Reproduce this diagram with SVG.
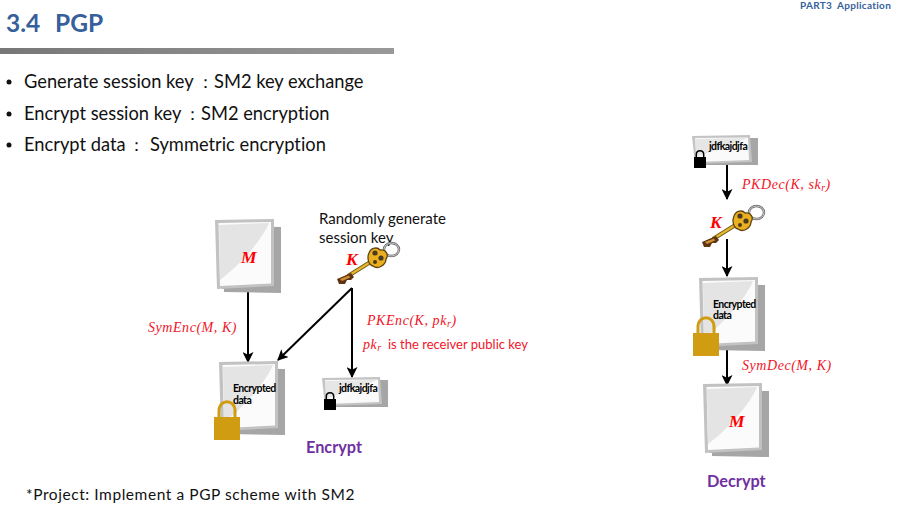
<svg xmlns="http://www.w3.org/2000/svg" width="912" height="512" viewBox="0 0 912 512">
<style>
text{font-family:Lato,"Open Sans","Noto Sans",sans-serif;fill:#111;font-variant-ligatures:none}
.b{font-size:18.300px}
.c{font-size:17px}
.m{font-family:"Liberation Serif",serif;font-style:italic;fill:#f01528;font-size:14px;letter-spacing:.55px}
.v{font-family:"Liberation Serif",serif;font-style:italic;font-weight:bold;fill:#f00;font-size:17.500px}
.sub{font-size:10px}
.lab{font-size:15px}
.tiny{font-size:10.500px;font-weight:bold;letter-spacing:-.55px;fill:#000}
.pur{font-size:16.300px;font-weight:bold;fill:#7030a0}
.ln{stroke:#000;stroke-width:2;fill:none}
</style>
<defs>
<linearGradient id="bar"><stop offset="0" stop-color="#777"/><stop offset="1" stop-color="#999"/></linearGradient>
<marker id="ah" viewBox="0 0 10 10" refX="9" refY="5" markerWidth="5.5" markerHeight="5.5" markerUnits="strokeWidth" orient="auto"><path d="M0 0L10 5L0 10L2.500 5Z" fill="#000"/></marker>
<symbol id="doc" viewBox="0 0 66 73" overflow="visible">
<path d="M7 6L66 7V73L9 72V69L7 69Z" fill="#a6a6a6"/>
<path d="M0 0L59 -1L59 66L2 69Z" fill="#c2c2c2"/>
<path d="M3.500 3L56 2L56 63.500L5 66Z" fill="#fbfbfb"/>
<path d="M4 5L54 3C47 20 25 45 5 60Z" fill="#e4e4e4"/>
</symbol>
<symbol id="sdoc" viewBox="0 0 66 31" overflow="visible">
<path d="M7 3L66 3L66 30L8 30Z" fill="#a6a6a6"/>
<path d="M0 1L58 0L60 27L3 29Z" fill="#c4c4c4"/>
<path d="M3 3L56 2.500L57 25L5 27Z" fill="#fafafa"/>
<path d="M3 4L55 3C40 10 20 16 4 22Z" fill="#e6e6e6"/>
</symbol>
<symbol id="glock" viewBox="0 0 26 40" overflow="visible">
<path d="M5 19V11C5 -1.500 21 -1.500 21 11V19" fill="none" stroke="#d09c12" stroke-width="3"/>
<rect x="0" y="17" width="26" height="23" fill="#d09c12"/>
</symbol>
<symbol id="klock" viewBox="0 0 12 18" overflow="visible">
<path d="M2.300 8V4.500C2.300 -.5 9.700 -.5 9.700 4.500V8" fill="none" stroke="#000" stroke-width="1.500"/>
<rect x="0" y="7" width="12" height="11" fill="#000"/>
</symbol>
<symbol id="key" viewBox="0 0 66 46" overflow="visible">
<ellipse cx="55.500" cy="8.500" rx="7.500" ry="6.500" fill="none" stroke="#6b6b6b" stroke-width="2.400"/>
<ellipse cx="55.500" cy="8.500" rx="7.500" ry="6.500" fill="none" stroke="#e0e0e0" stroke-width=".8"/>
<path d="M36 20L12 35" stroke="#6f5510" stroke-width="4"/>
<path d="M36 20L12 35" stroke="#e5b82e" stroke-width="2.200"/>
<path d="M1 38L15 32L18 36L15 39L11 39L9 43L3 43Z" fill="#5e3413"/>
<path d="M4 38L13 34.500L14 36.500L6 40Z" fill="#d09030"/>
<path d="M33 12C35 6 42 6 44 9C50 8 53 14 50 18C50 24 42 29 37 25C32 24 31 16 33 12Z" fill="#eab020" stroke="#5e4410" stroke-width="1.300"/>
<circle cx="39" cy="12" r="2.600" fill="#4a3a20"/><circle cx="45" cy="17" r="2.600" fill="#4a3a20"/><circle cx="39" cy="21" r="2" fill="#4a3a20"/>
</symbol>
</defs>
<rect width="912" height="512" fill="#fff"/>
<g id="header">
<text x="6" y="32" style="font-size:24.500px;font-weight:bold;fill:#365f9b">3.4<tspan x="55">PGP</tspan></text>
<text x="800" y="9" style="font-size:10px;font-weight:bold;fill:#365f9b;letter-spacing:.3px">PART3<tspan x="837">Application</tspan></text>
<rect x="0" y="48" width="394" height="6" fill="url(#bar)"/>
</g>
<g id="bullets">
<circle cx="9" cy="82" r="2.500" fill="#111"/><text class="b" x="24" y="88">Generate session key<tspan class="c" x="197">：</tspan><tspan x="214">SM2 key exchange</tspan></text>
<circle cx="9" cy="114" r="2.500" fill="#111"/><text class="b" x="24" y="120">Encrypt session key<tspan class="c" x="184">：</tspan><tspan x="201">SM2 encryption</tspan></text>
<circle cx="9" cy="145" r="2.500" fill="#111"/><text class="b" x="24" y="151">Encrypt data<tspan class="c" x="128">：</tspan><tspan x="150">Symmetric encryption</tspan></text>
</g>
<g id="connectors">
<path class="ln" d="M248 290V362" marker-end="url(#ah)"/>
<path class="ln" d="M352 288L278 360" marker-end="url(#ah)"/>
<path class="ln" d="M352 288V377" marker-end="url(#ah)"/>
<path class="ln" d="M727 164V199" marker-end="url(#ah)"/>
<path class="ln" d="M727 239V276" marker-end="url(#ah)"/>
<path class="ln" d="M727 349V385" marker-end="url(#ah)"/>
</g>
<g id="doc-m-left"><use href="#doc" x="215" y="220" width="66" height="73"/><text class="v" x="241" y="263">M</text></g>
<g id="session-note"><text class="lab" x="319" y="224">Randomly generate</text><text class="lab" x="319" y="243">session key</text></g>
<g id="key-left"><use href="#key" x="336" y="241" width="66" height="46"/><text class="v" x="346" y="265">K</text></g>
<g id="doc-enc-left"><use href="#doc" x="219" y="362" width="66" height="73"/><text class="tiny" x="233" y="392">Encrypted</text><text class="tiny" x="233" y="404">data</text><use href="#glock" x="214" y="400" width="26" height="40"/></g>
<g id="doc-cipher-left"><use href="#sdoc" x="322" y="377" width="66" height="31"/><text class="tiny" x="339" y="392">jdfkajdjfa</text><use href="#klock" x="324" y="392" width="12" height="18"/></g>
<g id="label-symenc"><text class="m" x="148" y="332">SymEnc(M, K)</text></g>
<g id="label-pkenc"><text class="m" x="367" y="325">PKEnc(K, pk<tspan class="sub" dy="2">r</tspan><tspan dy="-2">)</tspan></text></g>
<g id="label-pk"><text class="m" x="363" y="349">pk<tspan class="sub" dy="2">r</tspan></text><text x="388" y="349" style="font-size:13px;fill:#f01528">is the receiver public key</text></g>
<g id="encrypt-label"><text class="pur" x="306" y="453">Encrypt</text></g>
<g id="project-note"><text x="26" y="500" style="font-size:15.500px;letter-spacing:.57px">*Project: Implement a PGP scheme with SM2</text></g>
<g id="doc-cipher-right"><use href="#sdoc" x="692" y="135" width="66" height="31"/><text class="tiny" x="709" y="150">jdfkajdjfa</text><use href="#klock" x="694" y="150" width="12" height="18"/></g>
<g id="label-pkdec"><text class="m" x="742" y="189">PKDec(K, sk<tspan class="sub" dy="2">r</tspan><tspan dy="-2">)</tspan></text></g>
<g id="key-right"><use href="#key" x="701" y="204" width="66" height="46"/><text class="v" x="710" y="228">K</text></g>
<g id="doc-enc-right"><use href="#doc" x="699" y="278" width="66" height="73"/><text class="tiny" x="713" y="308">Encrypted</text><text class="tiny" x="713" y="319">data</text><use href="#glock" x="693" y="316" width="26" height="40"/></g>
<g id="label-symdec"><text class="m" x="742" y="370">SymDec(M, K)</text></g>
<g id="doc-m-right"><use href="#doc" x="703" y="384" width="66" height="73"/><text class="v" x="729" y="427">M</text></g>
<g id="decrypt-label"><text class="pur" x="707" y="487">Decrypt</text></g>
</svg>
